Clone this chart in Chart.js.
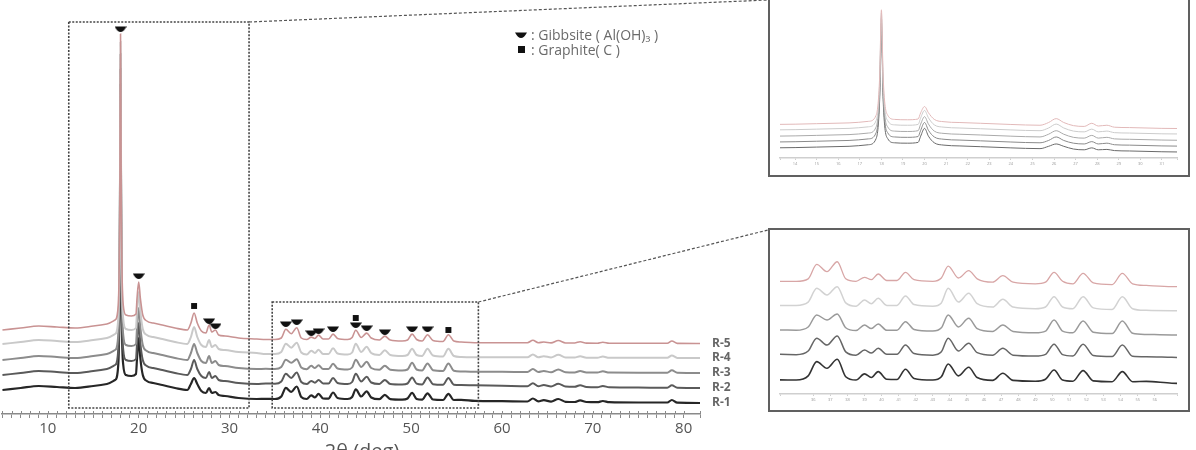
<!DOCTYPE html>
<html>
<head>
<meta charset="utf-8">
<script src="https://cdn.jsdelivr.net/npm/chart.js@4.4.1/dist/chart.umd.min.js"></script>
<style>
  html, body { margin: 0; padding: 0; background: #fff; overflow: hidden; width: 1196px; height: 450px; }
  #main { position: absolute; left: 0; top: 0; }
  .inset { position: absolute; background: #fff; border: 2px solid #606060; box-sizing: border-box; z-index: 2; }
  .inset canvas { position: absolute; left: 0; top: 0; }
</style>
</head>
<body>
<canvas id="main" width="1196" height="450"></canvas>
<div class="inset" id="box1" style="left:768px; top:-20px; width:422px; height:197px;"><canvas id="in1" width="418" height="193"></canvas></div>
<div class="inset" id="box2" style="left:768px; top:228px; width:422px; height:184px;"><canvas id="in2" width="418" height="180"></canvas></div>
<script>
// ---------------- DATA (stacked intensity, a.u.) ----------------
const twoTheta = [5,7,9,11,13,15,16.5,17.4,17.75,17.92,18.0,18.08,18.3,18.6,19.2,19.7,19.82,20.0,20.18,20.45,20.9,21.6,22.6,24,25.35,25.75,26.1,26.45,26.9,27.4,27.75,28.05,28.45,28.8,29.5,31,33,
  34,35,35.7,36.2,36.8,37.4,37.9,38.5,39.0,39.4,39.8,40.3,40.9,41.4,41.9,43.0,43.5,43.9,44.5,45.1,45.6,46.5,47.1,47.7,49.0,49.6,50.1,50.6,51.2,51.8,52.4,53.5,54.1,54.7,55.5,57,
  60,62.8,63.4,64.0,64.6,65.4,66.2,67.0,68.0,68.6,69.3,70.5,71.1,71.8,75,78.2,78.7,79.3,82];

const r1 = [24,26,28,27,26,28,30,34,49,150,330,150,49,39,38,40,56,76,56,39,33,31,29,26,24,30,36,30,23,21,26,21,22,19,18,16,15,
  15.1,15,17.5,26.1,22.1,27.5,17,15,18.7,16.5,20.1,15.5,15.3,21.5,16,15,17,24.7,17.5,22.7,16.5,14.8,19.1,14.8,14.3,15.5,21.1,15,14.3,20.7,14.5,14,20.1,14,14.2,13.1,
  12.8,12.5,15.5,12.6,13.8,12.4,15,12.2,12,13.6,12,11.8,13,11.8,11.5,11.5,14,11.3,11];
const r2 = [39,41,43,42,41,43,45,49,64,165,345,165,64,54,53,55,71,91,71,54,48,46,44,41,39,45,54,45,38,36,42,36,38,34,33,31,30,
  30.5,30.3,32.5,40.2,36.1,41.6,32,30,33.1,31.3,34.1,30.5,30.5,36.1,31,30,32,40.2,32.5,37.2,31.5,30,34.1,30,29.5,30.5,36.6,30.3,29.5,36.6,29.8,29.2,36.1,29.3,29,28.7,
  28.3,27.8,30.8,27.8,29,27.6,30.3,27.5,27.2,28.8,27,26.8,28,26.7,26.4,26.3,28.8,26.2,26];
const r3 = [54,56,58,57,56,58,60,64,79,180,360,180,79,69,68,70,87,106,87,69,63,61,59,56,54,61,70,61,53,51,58,51,53,49,48,46,45,
  45.2,45,47,54.2,51.2,54.8,46.5,44.8,48.2,46,48.8,45,45,50.2,45.5,44.5,46.5,54.2,47,52.2,46,44.3,48.2,44.3,43.5,44.5,51.2,44.5,43.5,50.6,43.8,43,50.6,43.2,42.5,42.2,
  42.2,42,45,42,43,41.8,44.6,41.8,41.6,43,41.5,41.5,42.7,41.4,41.3,41.3,43.8,41.2,41];
const r4 = [70,72,74,73,72,74,76,80,95,195,372,195,95,85,84,86,103,122,103,85,79,77,75,72,70,77,87,77,69,67,74,67,69,65,64,62,61,
  60,60,62,70.3,66.3,71.3,61.5,59.5,63.3,61,64.3,60,60,65.7,60.5,59.5,61.5,70.3,62,67.3,61,59,63.7,59,58,59,65.2,59,58,65.2,58.5,57.5,65.2,58,57,56.8,
  56.8,56.7,59.5,56.7,57.7,56.6,59.2,56.5,56.4,57.8,56.3,56.3,57.4,56.2,56.2,56.2,58.6,56.1,56];
const r5 = [84,86,88,87,86,88,90,94,109,210,380,210,109,99,98,100,116,132,116,99,93,91,89,86,84,91,101,91,83,81,89,82,84,79,78,76,75,
  74.5,74.5,76,84.7,80.3,86.3,76,74.5,76.9,75.5,78.9,75,75,79.9,75.5,74.5,76.5,83.7,76.5,80.9,76,74,77.9,74,73,74,79.9,74.5,73,79.3,73.5,72.5,79.3,73,72,71.3,
  71.3,71.2,73.8,71.2,72,71.1,73.5,71,71,72.3,70.9,70.8,71.8,70.8,70.7,70.7,73,70.6,70.5];

const seriesNames = ['R-1','R-2','R-3','R-4','R-5'];

// phase markers
const gibbsiteX = [18.0, 20.0, 27.75, 28.45, 36.2, 37.4, 39.0, 39.8, 41.4, 43.9, 45.1, 47.1, 50.1, 51.8];
const gibbsiteY = [385, 138, 93, 88, 90, 92, 81, 83, 85, 89, 86, 82, 85, 85];
const graphiteX = [26.1, 43.9, 54.1];
const graphiteY = [108, 96, 84];

const legendTexts = [': Gibbsite ( Al(OH)\u2083 )', ': Graphite( C )'];
const axisTitle = '2\u03B8 (deg)';

// zoom windows (2θ range, intensity range)
const zoom1 = { xmin: 12.3, xmax: 32.15, ymin: 6, ymax: 392 };
const zoom2 = { xmin: 34.7, xmax: 57.4, ymin: 6, ymax: 112 };

// ---------------- helpers ----------------
const allSeries = [r1, r2, r3, r4, r5];
function pts(arr) { return twoTheta.map((x, i) => ({ x: x, y: arr[i] })); }
function bowl(w, h) {
  const c = document.createElement('canvas');
  c.width = w; c.height = h;
  const g = c.getContext('2d');
  g.fillStyle = '#111';
  g.beginPath();
  g.moveTo(0, 0.5);
  g.lineTo(w, 0.5);
  g.quadraticCurveTo(w * 0.75, h, w / 2, h);
  g.quadraticCurveTo(w * 0.25, h, 0, 0.5);
  g.closePath();
  g.fill();
  return c;
}
const bowlImg = bowl(12, 6);

function lineSets(colors, widths) {
  return allSeries.map((arr, i) => ({
    label: seriesNames[i],
    data: pts(arr),
    borderColor: colors[i],
    borderWidth: widths[i],
    pointRadius: 0,
    fill: false,
    order: 10 - i,
    cubicInterpolationMode: 'monotone'
  }));
}

const mainColors = ['#262626', '#5a5a5a', '#8c8c8c', '#c9c9c9', '#c99393'];
const mainWidths = [2.2, 2, 2, 2, 1.6];

const annot = {
  id: 'annot',
  afterDatasetsDraw(chart) {
    const { ctx } = chart;
    const xs = chart.scales.x, ys = chart.scales.y;
    ctx.save();
    // upward minor ticks on the axis line (same tick values as the scale)
    ctx.strokeStyle = '#8a8a8a';
    ctx.lineWidth = 1;
    ctx.beginPath();
    xs.ticks.forEach(t => {
      const px = Math.round(xs.getPixelForValue(t.value)) + 0.5;
      ctx.moveTo(px, chart.chartArea.bottom - 3);
      ctx.lineTo(px, chart.chartArea.bottom);
    });
    ctx.stroke();
    // dotted zoom boxes
    ctx.strokeStyle = '#444';
    ctx.lineWidth = 1.6;
    ctx.setLineDash([2, 1.5]);
    [zoom1, zoom2].forEach(z => {
      const l = xs.getPixelForValue(z.xmin), r = xs.getPixelForValue(z.xmax);
      const t = ys.getPixelForValue(z.ymax), b = ys.getPixelForValue(z.ymin);
      ctx.strokeRect(l, t, r - l, b - t);
    });
    // connectors to the insets
    ctx.lineWidth = 1.2;
    ctx.setLineDash([3, 2]);
    ctx.strokeStyle = '#555';
    const b1 = document.getElementById('box1'), b2 = document.getElementById('box2');
    ctx.beginPath();
    ctx.moveTo(xs.getPixelForValue(zoom1.xmax), ys.getPixelForValue(zoom1.ymax));
    ctx.lineTo(b1.offsetLeft, 0);
    ctx.moveTo(xs.getPixelForValue(zoom2.xmax), ys.getPixelForValue(zoom2.ymax));
    ctx.lineTo(b2.offsetLeft, b2.offsetTop + 2);
    ctx.stroke();
    ctx.setLineDash([]);
    // series labels
    ctx.fillStyle = '#666';
    ctx.font = 'bold 12px "Open Sans", sans-serif';
    ctx.textBaseline = 'middle';
    ctx.textAlign = 'left';
    allSeries.forEach((arr, i) => {
      ctx.fillText(seriesNames[i], chart.chartArea.right + 12, ys.getPixelForValue(arr[arr.length - 1]));
    });
    // legend
    ctx.drawImage(bowlImg, 515, 32);
    ctx.fillStyle = '#111';
    ctx.fillRect(518, 46, 7, 7);
    ctx.fillStyle = '#6a6a6a';
    ctx.font = '14px "Open Sans", sans-serif';
    ctx.fillText(legendTexts[0], 531, 36);
    ctx.fillText(legendTexts[1], 531, 51);
    // axis title
    ctx.fillStyle = '#555';
    ctx.font = '20px "Open Sans", sans-serif';
    ctx.textAlign = 'center';
    ctx.fillText(axisTitle, 362, 452);
    ctx.restore();
  }
};

const isTen = v => Math.abs(v - Math.round(v / 10) * 10) < 1e-6;
const isInt = v => Math.abs(v - Math.round(v)) < 1e-6;

new Chart(document.getElementById('main'), {
  type: 'line',
  data: {
    datasets: lineSets(mainColors, mainWidths).concat([
      {
        label: 'Gibbsite',
        data: gibbsiteX.map((x, i) => ({ x: x, y: gibbsiteY[i] })),
        showLine: false, pointStyle: bowlImg, pointRadius: 5, order: 0
      },
      {
        label: 'Graphite',
        data: graphiteX.map((x, i) => ({ x: x, y: graphiteY[i] })),
        showLine: false, pointStyle: 'rect', pointRadius: 4.2,
        backgroundColor: '#111', borderColor: '#111', borderWidth: 0, order: 0
      }
    ])
  },
  options: {
    responsive: false,
    animation: false,
    devicePixelRatio: 1,
    layout: { autoPadding: false, padding: { left: 0, right: 496, top: 14, bottom: 0 } },
    plugins: { legend: { display: false }, tooltip: { enabled: false } },
    scales: {
      x: {
        type: 'linear', min: 4.95, max: 81.8,
        afterFit: s => { s.height = 36; },
        ticks: {
          stepSize: 1, autoSkip: false, maxRotation: 0, padding: 2,
          callback: v => (isTen(v) ? String(Math.round(v)) : ''),
          font: { size: 15, family: '"Open Sans", sans-serif' }, color: '#555'
        },
        grid: { drawOnChartArea: false, tickLength: 4, color: '#8a8a8a', lineWidth: 1 },
        border: { color: '#8a8a8a', width: 1.5 }
      },
      y: { display: false, min: 0, max: 400 }
    }
  },
  plugins: [annot]
});

function inset(id, xr, yr, pad, axisH, colors, widths) {
  new Chart(document.getElementById(id), {
    type: 'line',
    data: { datasets: lineSets(colors, widths) },
    options: {
      responsive: false,
      animation: false,
      devicePixelRatio: 1,
      layout: { autoPadding: false, padding: pad },
      plugins: { legend: { display: false }, tooltip: { enabled: false } },
      scales: {
        x: {
          type: 'linear', min: xr[0], max: xr[1],
          afterFit: s => { s.height = axisH; },
          ticks: {
            stepSize: 1, autoSkip: false, maxRotation: 0, padding: 1,
            callback: v => (isInt(v) ? String(Math.round(v)) : ''),
            font: { size: 4, family: '"Open Sans", sans-serif' }, color: '#999'
          },
          grid: { drawOnChartArea: false, tickLength: 2, color: '#cfcfcf' },
          border: { color: '#cfcfcf', width: 1.5 }
        },
        y: { display: false, min: yr[0], max: yr[1] }
      }
    }
  });
}

inset('in1', [13.3, 31.7], [0, 400], { left: 10, right: 11, top: 20, bottom: 0 }, 17,
  ['#6a6a6a', '#8a8a8a', '#aaaaaa', '#cccccc', '#e2b9b9'], [1, 1, 1, 1, 1]);
inset('in2', [34.05, 57.3], [6.6, 99.4], { left: 10, right: 11, top: 10, bottom: 0 }, 16,
  ['#333333', '#666666', '#9a9a9a', '#d2d2d2', '#d8a6a6'], [1.6, 1.5, 1.5, 1.5, 1.3]);
</script>
</body>
</html>
